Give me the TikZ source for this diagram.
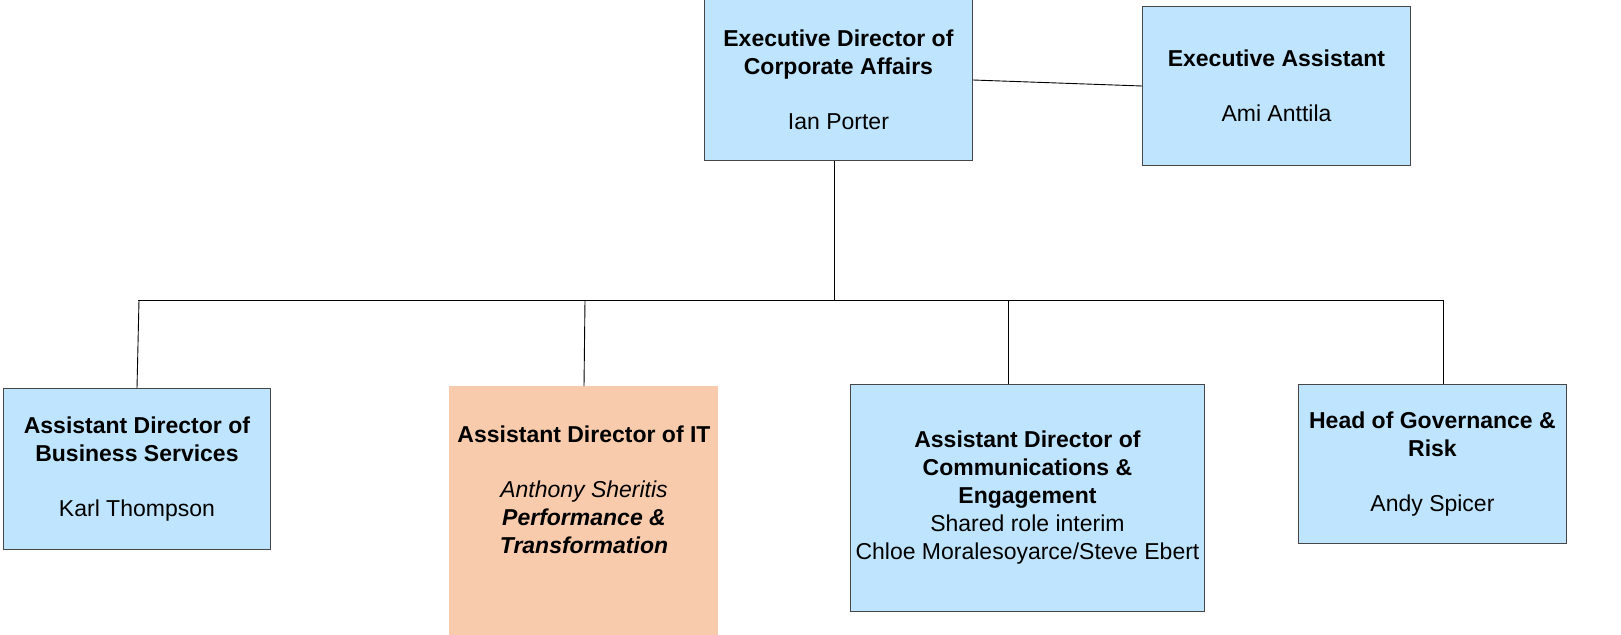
\documentclass[tikz,border=0pt]{standalone}
\usepackage{fontspec}
\setmainfont{Liberation Sans}
\definecolor{boxblue}{RGB}{191,228,253}
\definecolor{boxpeach}{RGB}{248,203,173}
\definecolor{boxedge}{RGB}{70,70,70}
\begin{document}
\begin{tikzpicture}[x=1pt,y=-1pt,
  orgbox/.style={draw=boxedge, line width=0.9pt, fill=boxblue, inner sep=0pt, anchor=north west},
  itbox/.style={fill=boxpeach, inner sep=0pt, anchor=north west},
  txt/.style={align=center, inner sep=0pt, font=\fontsize{23}{28}\selectfont},
  conn/.style={draw=black, line width=0.9pt}]
\useasboundingbox (0,0) rectangle (1621,634);
% top boxes
\node[orgbox, minimum width=268pt, minimum height=161pt] (ed) at (704,-1) {};
\node[txt] (edt) at (ed.center) {\textbf{Executive Director of}\\\textbf{Corporate Affairs}\\[27pt]Ian Porter};
\node[orgbox, minimum width=268pt, minimum height=159pt] (ea) at (1142,6) {};
\node[txt] (eat) at (ea.center) {\textbf{Executive Assistant}\\[27pt]Ami Anttila};
% bottom boxes
\node[orgbox, minimum width=267pt, minimum height=161pt] (bs) at (3,388) {};
\node[txt] (bst) at (bs.center) {\textbf{Assistant Director of}\\\textbf{Business Services}\\[27pt]Karl Thompson};
\node[itbox, minimum width=269pt, minimum height=260pt] (it) at (449,386) {};
\node[txt] (itt) at (584,490) {\textbf{Assistant Director of IT}\\[27pt]\textit{Anthony Sheritis}\\\textbf{\textit{Performance \&}}\\\textbf{\textit{Transformation}}};
\node[orgbox, minimum width=354pt, minimum height=227pt] (ce) at (850,384) {};
\node[txt] (cet) at (ce.center) {\textbf{Assistant Director of}\\\textbf{Communications \&}\\\textbf{Engagement}\\Shared role interim\\Chloe Moralesoyarce/Steve Ebert};
\node[orgbox, minimum width=268pt, minimum height=159pt] (gr) at (1298,384) {};
\node[txt] (grt) at (gr.center) {\textbf{Head of Governance \&}\\\textbf{Risk}\\[27pt]Andy Spicer};
% connectors
\coordinate (bl) at (138,300);
\coordinate (br) at (1443,300);
\coordinate (bm) at (834,300);
\draw[conn] (ed.east |- 0,80) -- (ea.west |- 0,86);
\draw[conn] (ed.south -| bm) -- (bm);
\draw[conn] (bl) -- (br);
\draw[conn] (139,300) -- (bs.north -| 137,0);
\draw[conn] (585,300) -- (it.north -| 584,0);
\draw[conn] (1008,300) -- (ce.north -| 1008,0);
\draw[conn] (br) -- (gr.north -| 1443,0);
\end{tikzpicture}
\end{document}
